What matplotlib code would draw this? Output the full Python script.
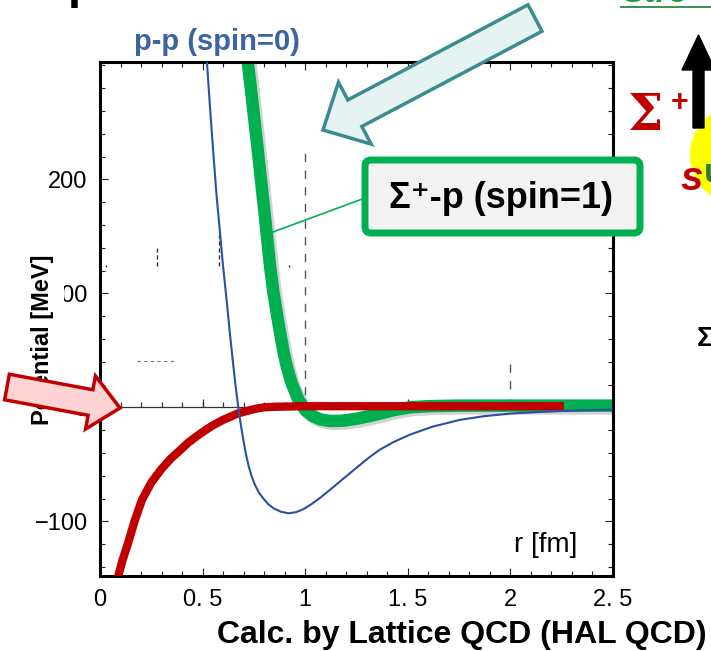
import numpy as np
import matplotlib.pyplot as plt
import matplotlib.patheffects as pe
from matplotlib.patches import FancyArrow, FancyBboxPatch, Circle
from matplotlib.transforms import IdentityTransform
from matplotlib.lines import Line2D

W, H = 711, 651

# p-p (spin=0)
r_pp = [0.52, 0.535, 0.551, 0.568, 0.585, 0.598, 0.617, 0.633, 0.65, 0.662, 0.674,
        0.686, 0.698, 0.71, 0.725, 0.74, 0.755, 0.775, 0.796, 0.82, 0.845, 0.88,
        0.918, 0.955, 0.99, 1.03, 1.072, 1.12, 1.17, 1.22, 1.267, 1.315, 1.365,
        1.43, 1.51, 1.62, 1.754, 1.87, 2.0, 2.12, 2.242, 2.37, 2.5]
v_pp = [306, 266, 226, 186, 153, 127, 94, 65, 36, 17, 0,
        -15, -28, -40, -52, -61, -68, -75, -80, -85, -88.5, -91.5,
        -93, -92, -89.5, -85, -79.5, -72.5, -65, -57.5, -50.5, -43.5, -37,
        -30.5, -24, -17, -11, -7.8, -5.5, -4.3, -3.3, -2.5, -2]

# Sigma+ p (spin=1)
r_sp1 = [0.718, 0.735, 0.75, 0.765, 0.78, 0.795, 0.812, 0.828, 0.845, 0.862, 0.877,
         0.893, 0.91, 0.934, 0.966, 1.0, 1.035, 1.072, 1.12, 1.18, 1.25, 1.31,
         1.365, 1.43, 1.51, 1.6, 1.75, 2.0, 2.5]
v_sp1 = [306, 280, 256, 232, 207, 182, 153, 125, 101, 82, 66,
         50, 36, 21, 7, -2.5, -7.5, -10.5, -12, -11.8, -10, -7.8,
         -5.5, -2.5, 0, 1, 1.5, 1.5, 1.5]

# red curve
r_red = [0.083, 0.11, 0.137, 0.17, 0.205, 0.25, 0.3, 0.345, 0.39, 0.43, 0.47,
         0.51, 0.55, 0.6, 0.673, 0.72, 0.76, 0.8, 0.85, 0.95, 1.0, 1.5, 2.0, 2.26]
v_red = [-152, -134, -119, -99, -81, -66, -54, -45, -37.7, -31, -25.5,
         -20.5, -15.8, -11, -5.3, -3, -1.2, 0, 0.5, 0.8, 1.0, 1.0, 1.0, 1.0]

# faint leftovers of an underlying plot
junk_r = [0.28, 0.58, 0.92, 0.03]
junk_lo = [124, 124, 123, 123]
junk_hi = [140, 151, 125, 125]

xticks = [0, 0.5, 1, 1.5, 2, 2.5]
xticklabels = ["0", "0. 5", "1", "1. 5", "2", "2. 5"]
yticks = [-100, 0, 100, 200]
yticklabels = ["\u2212100", "0", "100", "200"]

sans = ["Liberation Sans", "DejaVu Sans"]


def fx(x):
    return x / W


def fy(y):
    return 1 - y / H


fig = plt.figure(figsize=(W / 100, H / 100), dpi=100)
ax = fig.add_axes([fx(100), fy(576), 513 / W, 514 / H])
ax.set_xlim(0, 2.5)
ax.set_ylim(-148, 303)

# zero line with little ticks
ax.axhline(0, color="#333333", lw=0.9, zorder=1)
minor_r = np.round(np.arange(0.1, 2.5, 0.1), 2)
ax.vlines(minor_r, 0, 4.5, color="#333333", lw=0.9, zorder=1)
ax.vlines(xticks[1:-1], 0, 7, color="#333333", lw=0.9, zorder=1)

# leftover dashed guides and specks
ax.vlines(1.0, 11, 225, colors="#555555", lw=1, linestyles=(0, (6, 6)), zorder=1)
ax.vlines(2.0, 16, 38, colors="#555555", lw=1, linestyles=(0, (6, 6)), zorder=1)
ax.vlines(junk_r, junk_lo, junk_hi, colors="#333333", lw=1, linestyles=(0, (3, 2)), zorder=1)
ax.hlines(41, 0.18, 0.37, colors="#777777", lw=0.8, linestyles=(0, (3, 3)), zorder=1)

ax.plot(r_sp1, v_sp1, color="#00B050", lw=9, solid_capstyle="butt", zorder=2,
        path_effects=[pe.SimpleLineShadow(offset=(2, -2), shadow_color="gray", alpha=0.35),
                      pe.Normal()])
ax.plot(r_red, v_red, color="#C00000", lw=6, solid_capstyle="butt", zorder=3)
ax.plot(r_pp, v_pp, color="#2A4FA3", lw=1.5, zorder=4)

ax.set_xticks(xticks)
ax.set_xticklabels(xticklabels, fontfamily=sans, fontsize=17)
ax.set_xticks(minor_r, minor=True)
ax.set_yticks(yticks)
ax.set_yticklabels(yticklabels, fontfamily=sans, fontsize=17)
ax.set_yticks(np.arange(-140, 301, 20), minor=True)
ax.tick_params(which="both", direction="in", top=True, right=True, width=0.8, color="#222222")
ax.tick_params(which="major", length=5.5)
ax.tick_params(which="minor", length=3.5)
ax.tick_params(axis="x", pad=9)
ax.tick_params(axis="y", pad=9)
for s in ax.spines.values():
    s.set_linewidth(2.2)

ax.text(0.93, 0.06, "r [fm]", transform=ax.transAxes, ha="right", va="center",
        fontsize=20, fontfamily=sans)

# texts around the plot
fig.text(fx(217), fy(42), "p-p (spin=0)", color="#3C64A0", fontsize=21,
         fontweight="bold", fontfamily=sans, ha="center", va="center")
fig.text(fx(43), fy(340), "Potential [MeV]", rotation=90, fontsize=17,
         fontweight="bold", fontfamily=sans, ha="center", va="center", zorder=5,
         bbox=dict(boxstyle="square,pad=0.4", facecolor="white", edgecolor="none"))
fig.text(fx(707), fy(635), "Calc. by Lattice QCD (HAL QCD)", fontsize=23,
         fontweight="bold", fontfamily=sans, ha="right", va="center")

# cut-off slide fragments
fig.text(fx(68), fy(-2), "p", fontsize=34, fontweight="bold", fontfamily=sans,
         ha="left", va="baseline")
fig.text(fx(621), fy(2), "Stro", fontsize=24, fontweight="bold", fontfamily=sans,
         color="#1E9E3A", ha="left", va="baseline")
fig.add_artist(Line2D([fx(621), 1], [fy(7), fy(7)], color="#1E7A2E", lw=1.2))

# teal block arrow
idt = IdentityTransform()
fig.add_artist(FancyArrow(535, H - 18, -212, -112, width=30, head_width=70,
                          head_length=36, length_includes_head=True,
                          facecolor="#E6F3F3", edgecolor="#3A8C91", lw=2.5,
                          transform=idt, zorder=6))
# red block arrow
fig.add_artist(FancyArrow(7, H - 387, 113, -21, width=26, head_width=54,
                          head_length=30, length_includes_head=True,
                          facecolor="#FFD3D3", edgecolor="#C00000", lw=2.5,
                          transform=idt, zorder=6))

# label box for the green curve
fig.add_artist(Line2D([fx(273), fx(365)], [fy(232), fy(198)], color="#00B050", lw=1.2, zorder=6))
fig.add_artist(FancyBboxPatch((365, H - 233), 275, 73,
                              boxstyle="round,pad=0,rounding_size=6",
                              facecolor="#F2F2F2", edgecolor="#00B050", lw=5,
                              transform=idt, zorder=6))
fig.text(fx(501), fy(198), "\u03a3\u207a-p (spin=1)", fontsize=26, fontweight="bold",
         fontfamily=sans, ha="center", va="center", zorder=7)

# right side decoration
fig.add_artist(Circle((740, H - 155), 50, transform=idt, facecolor="#FFFF00",
                      edgecolor="none", zorder=1))
fig.add_artist(Circle((745, H - 150), 32, transform=idt, facecolor="#FFFF80",
                      edgecolor="none", zorder=1))
fig.add_artist(FancyArrow(698.5, H - 128, 0, 93, width=11, head_width=33,
                          head_length=35, length_includes_head=True,
                          color="black", transform=idt, zorder=3))
fig.text(fx(628), fy(130), "\u03a3", fontsize=36, fontweight="bold",
         fontfamily=["DejaVu Serif"], color="#C00000", ha="left", va="baseline")
fig.text(fx(671), fy(111), "+", fontsize=22, fontweight="bold", fontfamily=sans,
         color="#C00000", ha="left", va="baseline")
fig.text(fx(681), fy(190), "s", fontsize=29, fontweight="bold", style="italic",
         fontfamily=sans, color="#C00000", ha="left", va="baseline", zorder=4)
fig.text(fx(704), fy(182), "u", fontsize=24, fontweight="bold",
         fontfamily=sans, color="#2E7D32", ha="left", va="baseline", zorder=4)
fig.text(fx(697), fy(346), "\u03a3", fontsize=20, fontweight="bold",
         fontfamily=sans, ha="left", va="baseline")

fig.savefig("out.png", dpi=100)
